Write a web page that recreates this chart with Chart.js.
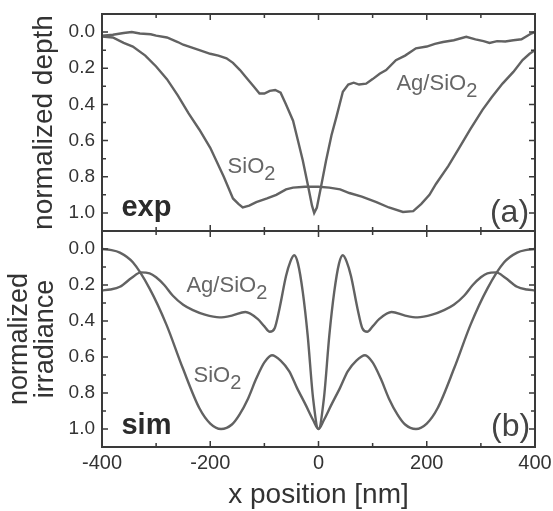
<!DOCTYPE html>
<html>
<head>
<meta charset="utf-8">
<script src="https://cdn.jsdelivr.net/npm/chart.js@4.4.1/dist/chart.umd.min.js"></script>
<style>
  html, body { margin: 0; padding: 0; background: #fff; }
  #wrap { position: relative; width: 553px; height: 511px; }
  canvas { position: absolute; left: 0; }
  #expCanvas { top: 0; }
  #simCanvas { top: 230px; }
</style>
</head>
<body>
<div id="wrap">
  <canvas id="expCanvas" width="553" height="231"></canvas>
  <canvas id="simCanvas" width="553" height="281"></canvas>
</div>
<script>
var expAgX = [-400, -380, -360, -345, -330, -310, -300, -280, -260, -250, -235, -220, -200, -185, -170, -158, -145, -134, -120, -109,
  -100, -90, -80, -70, -60, -47, -38, -29, -20, -12, -8, -3, 5, 14, 24, 33, 45, 55, 65, 75, 88, 100, 113, 125, 143, 160, 180, 200,
  215, 230, 250, 273, 290, 305, 316, 330, 345, 360, 375, 393, 400];
var expAgDepth = [0.02, 0.015, 0.005, 0.0, 0.008, 0.012, 0.02, 0.03, 0.055, 0.07, 0.085, 0.1, 0.12, 0.13, 0.145, 0.17, 0.21, 0.25, 0.3, 0.34,
  0.34, 0.325, 0.32, 0.335, 0.4, 0.49, 0.6, 0.71, 0.84, 0.96, 1.0, 0.97, 0.85, 0.71, 0.57, 0.47, 0.33, 0.29, 0.28, 0.29, 0.285, 0.26, 0.23, 0.21, 0.155, 0.13, 0.09, 0.08,
  0.065, 0.055, 0.045, 0.026, 0.04, 0.05, 0.06, 0.05, 0.052, 0.045, 0.04, 0.008, 0.0];

var expSiX = [-400, -380, -360, -343, -320, -300, -280, -260, -240, -220, -200, -189, -175, -158, -148, -140, -128, -115, -95, -78,
  -60, -47, -25, 0, 20, 40, 57, 80, 107, 130, 156, 175, 190, 205, 217, 240, 260, 280, 303, 320, 340, 360, 377, 390, 400];
var expSiDepth = [0.025, 0.03, 0.06, 0.08, 0.13, 0.19, 0.26, 0.35, 0.45, 0.54, 0.64, 0.71, 0.8, 0.92, 0.95, 0.97, 0.96, 0.94, 0.92, 0.9,
  0.87, 0.86, 0.855, 0.855, 0.86, 0.87, 0.89, 0.91, 0.94, 0.97, 0.995, 0.99, 0.95, 0.9, 0.84, 0.74, 0.64, 0.54, 0.43, 0.36, 0.285, 0.22, 0.155, 0.12, 0.1];

var simAgX = [-400, -385, -367, -345, -328, -312, -300, -285, -269, -250, -232, -210, -183, -160, -135, -112, -100, -90, -81, -72,
  -60, -52, -45, -38, -29, -20, -10, 0, 10, 20, 29, 38, 45, 52, 60, 72, 81, 90, 100, 112, 135, 160, 183, 210, 232, 250, 269, 285,
  300, 312, 328, 345, 367, 385, 400];
var simAgIrr = [0.23, 0.225, 0.21, 0.16, 0.13, 0.135, 0.157, 0.2, 0.26, 0.31, 0.34, 0.365, 0.38, 0.37, 0.35, 0.39, 0.43, 0.46, 0.44, 0.33,
  0.15, 0.07, 0.035, 0.08, 0.24, 0.48, 0.83, 1.0, 0.83, 0.48, 0.24, 0.08, 0.035, 0.07, 0.15, 0.33, 0.44, 0.46, 0.43, 0.39, 0.35, 0.37, 0.38, 0.365, 0.34, 0.31, 0.26, 0.2,
  0.157, 0.135, 0.13, 0.16, 0.21, 0.225, 0.23];

var simSiX = [-400, -385, -367, -343, -312, -281, -251, -220, -200, -180, -160, -146, -130, -115, -100, -86, -70, -54, -40, -23, -10,
  0, 10, 23, 40, 54, 70, 86, 100, 115, 130, 146, 160, 180, 200, 220, 251, 281, 312, 343, 367, 385, 400];
var simSiIrr = [0.0, 0.005, 0.02, 0.074, 0.22, 0.42, 0.66, 0.885, 0.97, 1.0, 0.975, 0.92, 0.83, 0.72, 0.63, 0.59, 0.62, 0.68, 0.77, 0.87, 0.95,
  1.0, 0.95, 0.87, 0.77, 0.68, 0.62, 0.59, 0.63, 0.72, 0.83, 0.92, 0.975, 1.0, 0.97, 0.885, 0.66, 0.42, 0.22, 0.074, 0.02, 0.005, 0.0];

var xTickLabels = [-400, -200, 0, 200, 400];
var xTickMarks = [-300, -200, -100, 0, 100, 200, 300];
var yTickLabels = [0.0, 0.2, 0.4, 0.6, 0.8, 1.0];
var yTickMarks = [0.0, 0.1, 0.2, 0.3, 0.4, 0.5, 0.6, 0.7, 0.8, 0.9, 1.0];

var LINE = '#626262';
var FRAME = '#3a3a3a';
var TEXT = '#333';
var FONT = '"Liberation Sans", Arial, sans-serif';

function points(xs, ys) {
  return xs.map(function (x, i) { return {x: x, y: ys[i]}; });
}

// frame with inward ticks on all four sides, plus the in-plot labels
var panelDecor = {
  id: 'panelDecor',
  afterDatasetsDraw: function (chart, args, opts) {
    var ctx = chart.ctx, a = chart.chartArea;
    var xs = chart.scales.x, ys = chart.scales.y;
    ctx.save();
    ctx.strokeStyle = FRAME;
    ctx.lineWidth = 2;
    ctx.strokeRect(a.left, a.top, a.right - a.left, a.bottom - a.top);

    ctx.lineWidth = 1.5;
    ctx.beginPath();
    xTickMarks.forEach(function (v) {
      var px = xs.getPixelForValue(v);
      var len = v % 200 === 0 ? 6 : 4;
      ctx.moveTo(px, a.top); ctx.lineTo(px, a.top + len);
      ctx.moveTo(px, a.bottom); ctx.lineTo(px, a.bottom - len);
    });
    yTickMarks.forEach(function (v, i) {
      var py = ys.getPixelForValue(v);
      var len = i % 2 === 0 ? 6 : 4;
      ctx.moveTo(a.left, py); ctx.lineTo(a.left + len, py);
      ctx.moveTo(a.right, py); ctx.lineTo(a.right - len, py);
    });
    ctx.stroke();

    ctx.textBaseline = 'alphabetic';
    (opts.labels || []).forEach(function (l) {
      var px = xs.getPixelForValue(l.x), py = ys.getPixelForValue(l.y);
      ctx.font = l.font;
      ctx.fillStyle = l.color;
      ctx.textAlign = l.align || 'left';
      ctx.fillText(l.text, px, py);
      if (l.sub) {
        var w = ctx.measureText(l.text).width;
        ctx.font = '20px ' + FONT;
        ctx.textAlign = 'left';
        ctx.fillText(l.sub, px + w, py + 7);
      }
    });
    ctx.restore();
  }
};

function makePanel(canvasId, datasets, yTitle, yTitleOpts, labels, showX) {
  return new Chart(document.getElementById(canvasId), {
    type: 'line',
    data: {datasets: datasets},
    plugins: [panelDecor],
    options: {
      responsive: false,
      animation: false,
      layout: {padding: {top: showX ? 1 : 14, right: 18, bottom: 0, left: 0}},
      plugins: {
        legend: {display: false},
        tooltip: {enabled: false},
        panelDecor: {labels: labels}
      },
      elements: {point: {radius: 0}},
      scales: {
        x: {
          type: 'linear',
          min: -400,
          max: 400,
          display: showX,
          grid: {display: false, drawTicks: false},
          border: {display: false},
          afterBuildTicks: function (s) {
            s.ticks = xTickLabels.map(function (v) { return {value: v}; });
          },
          afterFit: function (s) {
            if (showX) s.height = 64;
            s.paddingLeft = 0;
            s.paddingRight = 0;
          },
          ticks: {
            autoSkip: false,
            maxRotation: 0,
            padding: 4,
            color: TEXT,
            font: {family: FONT, size: 20},
            callback: function (v) { return String(v); }
          },
          title: {
            display: true,
            text: 'x position [nm]',
            color: TEXT,
            padding: {top: 0, bottom: 0},
            font: {family: FONT, size: 28, lineHeight: 1.15}
          }
        },
        y: {
          min: -0.1,
          max: 1.1,
          reverse: true,
          grid: {display: false, drawTicks: false},
          border: {display: false},
          afterBuildTicks: function (s) {
            s.ticks = yTickLabels.map(function (v) { return {value: v}; });
          },
          afterFit: function (s) {
            s.width = 102;
            s.paddingTop = 0;
            s.paddingBottom = 0;
          },
          ticks: {
            padding: 7,
            color: TEXT,
            font: {family: FONT, size: 19},
            callback: function (v) { return v.toFixed(1); }
          },
          title: Object.assign({
            display: true,
            text: yTitle,
            color: TEXT
          }, yTitleOpts)
        }
      }
    }
  });
}

var curveStyle = {borderColor: LINE, borderWidth: 2.4, fill: false};

makePanel('expCanvas', [
  Object.assign({label: 'Ag/SiO2', data: points(expAgX, expAgDepth), tension: 0}, curveStyle),
  Object.assign({label: 'SiO2', data: points(expSiX, expSiDepth), tension: 0}, curveStyle)
], 'normalized depth', {
  padding: {top: 27, bottom: 0},
  font: {family: FONT, size: 28, lineHeight: 1.2}
}, [
  {text: 'exp', x: -364, y: 1.017, font: 'bold 29px ' + FONT, color: '#2b2b2b'},
  {text: '(a)', x: 389, y: 1.05, align: 'right', font: '32px ' + FONT, color: '#444'},
  {text: 'SiO', sub: '2', x: -168, y: 0.78, font: '22px ' + FONT, color: '#666'},
  {text: 'Ag/SiO', sub: '2', x: 144, y: 0.32, font: '22px ' + FONT, color: '#666'}
], false);

makePanel('simCanvas', [
  Object.assign({label: 'Ag/SiO2', data: points(simAgX, simAgIrr), cubicInterpolationMode: 'monotone'}, curveStyle),
  Object.assign({label: 'SiO2', data: points(simSiX, simSiIrr), cubicInterpolationMode: 'monotone'}, curveStyle)
], ['normalized', 'irradiance'], {
  padding: {top: 7, bottom: 0},
  font: {family: FONT, size: 27, lineHeight: 0.96}
}, [
  {text: 'sim', x: -364, y: 1.028, font: 'bold 29px ' + FONT, color: '#2b2b2b'},
  {text: '(b)', x: 391, y: 1.04, align: 'right', font: '32px ' + FONT, color: '#444'},
  {text: 'Ag/SiO', sub: '2', x: -244, y: 0.24, font: '22px ' + FONT, color: '#666'},
  {text: 'SiO', sub: '2', x: -231, y: 0.74, font: '22px ' + FONT, color: '#666'}
], true);
</script>
</body>
</html>
